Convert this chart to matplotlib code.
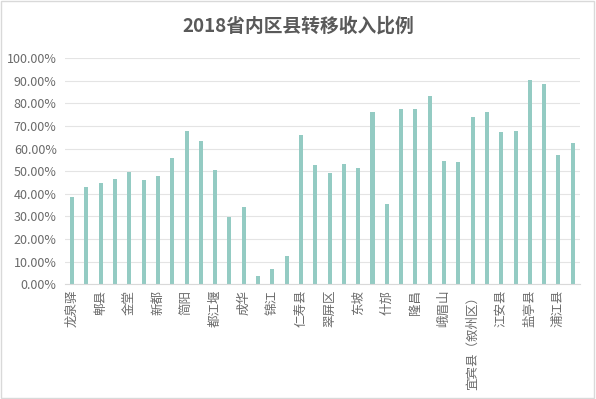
import numpy as np
import matplotlib.pyplot as plt
from matplotlib.ticker import PercentFormatter

plt.rcParams['font.family'] = ['Noto Sans CJK SC', 'DejaVu Sans']

# values for 36 counties (ratio of transfer income), labels on every other bar
values = [38.6, 43.1, 44.8, 46.6, 49.7, 46.2, 47.9, 55.9, 67.8, 63.6,
          50.6, 29.8, 34.2, 3.7, 6.8, 12.5, 66.1, 52.8, 49.4, 53.2,
          51.5, 76.3, 35.5, 77.6, 77.6, 83.3, 54.6, 54.1, 74.0, 76.3,
          67.4, 67.8, 90.4, 88.6, 57.2, 62.5]
tick_labels = ['龙泉驿', '郫县', '金堂', '新都', '简阳', '都江堰', '成华', '锦江',
               '仁寿县', '翠屏区', '东坡', '什邡', '隆昌', '峨眉山',
               '宜宾县（叙州区）', '江安县', '盐亭县', '浦江县']

x = np.arange(len(values))
y = np.array(values) / 100

fig = plt.figure(figsize=(5.96, 3.99), dpi=100)
ax = fig.add_axes([0.109, 0.2875, 0.864, 0.5665])

ax.bar(x, y, width=0.28, color='#94CBC3', zorder=2)

ax.set_xlim(-0.5, len(values) - 0.5)
ax.set_ylim(0, 1.0)
ax.set_yticks(np.arange(0, 1.01, 0.1))
ax.yaxis.set_major_formatter(PercentFormatter(1.0, decimals=2))
ax.grid(axis='y', color='#E4E4E4', linewidth=0.8, zorder=0)

ax.set_xticks(x[::2])
ax.set_xticklabels(tick_labels, rotation=90, va='top', ha='center')
ax.tick_params(axis='x', length=0, pad=4, labelsize=9, labelcolor='#6A6A6A')
ax.tick_params(axis='y', length=0, pad=6, labelsize=9, labelcolor='#6A6A6A')

for s in ['top', 'right', 'left']:
    ax.spines[s].set_visible(False)
ax.spines['bottom'].set_color('#D9D9D9')

fig.text(0.5, 0.935, '2018省内区县转移收入比例', ha='center', va='center',
         fontsize=13.5, fontweight='bold', color='#595959')

# light border around the chart area
fig.patches.append(plt.Rectangle((0.002, 0.003), 0.995, 0.994, transform=fig.transFigure,
                                 fill=False, edgecolor='#D9D9D9', linewidth=1))

fig.savefig('out.png', dpi=100)
